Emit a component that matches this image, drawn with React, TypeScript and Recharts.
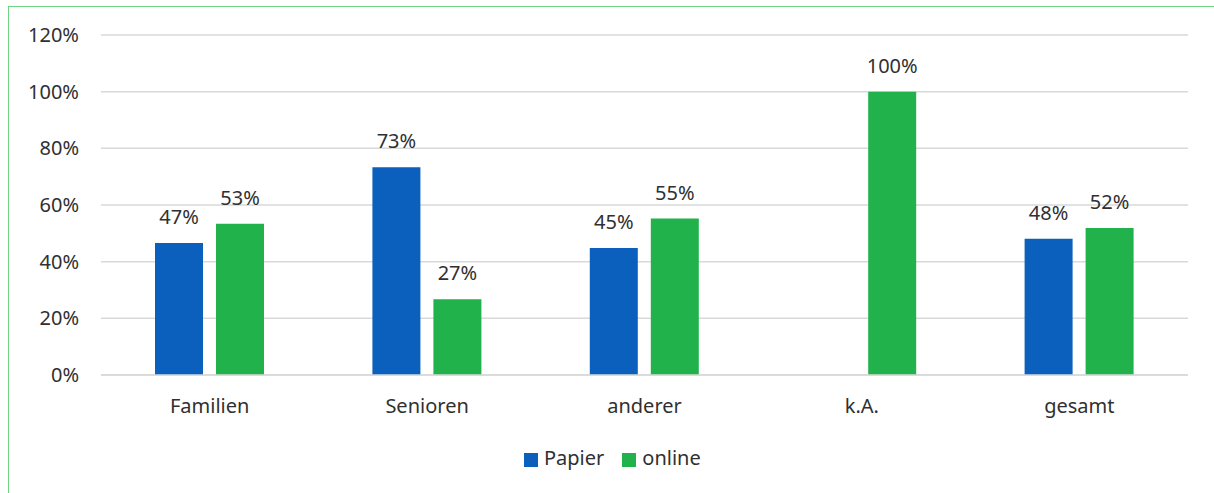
import { BarChart, Bar, XAxis, YAxis, CartesianGrid, Legend, LabelList } from 'recharts';

const categories = ['Familien', 'Senioren', 'anderer', 'k.A.', 'gesamt'];
const papier = [46.6, 73.3, 44.8, null, 48.1];
const online = [53.4, 26.7, 55.2, 100, 51.9];
const yTicks = [0, 20, 40, 60, 80, 100, 120];

const data = categories.map((name, i) => ({ name, papier: papier[i], online: online[i] }));

const font = '"Noto Sans", sans-serif';
const textColor = '#303030';

const pct = (v: any) => (v == null ? '' : `${Math.round(v)}%`);

export default function App() {
  return (
    <div style={{ position: 'absolute', left: 0, top: 0, width: 1214, height: 493, background: '#fff', fontFamily: font }}>
      <div
        style={{
          position: 'absolute',
          left: 8,
          top: 6,
          right: 0,
          bottom: 0,
          borderLeft: '1.5px solid #6fd47f',
          borderTop: '1.5px solid #6fd47f',
        }}
      />
      <BarChart
        width={1214}
        height={493}
        data={data}
        margin={{ top: 35, right: 26, left: 0, bottom: 0 }}
        barGap={13}
        barSize={48}
        style={{ position: 'absolute', left: 0, top: 0 }}
      >
        <CartesianGrid vertical={false} stroke="#d9d9d9" strokeWidth={1.5} />
        <XAxis
          dataKey="name"
          height={50}
          tickLine={false}
          axisLine={{ stroke: '#d9d9d9', strokeWidth: 1.5 }}
          tickMargin={18}
          tick={{ fill: textColor, fontSize: 20, fontFamily: font }}
        />
        <YAxis
          width={101}
          domain={[0, 120]}
          ticks={yTicks}
          tickFormatter={(v) => `${v}%`}
          tickLine={false}
          axisLine={false}
          tickMargin={16}
          tick={{ fill: textColor, fontSize: 20, fontFamily: font }}
        />
        <Legend
          verticalAlign="bottom"
          height={68}
          iconType="square"
          iconSize={14}
          wrapperStyle={{ top: 444, left: 524, width: 'auto', fontFamily: font, fontSize: 20, color: textColor }}
          formatter={(value) => <span style={{ color: textColor, marginLeft: 2, marginRight: 8 }}>{value}</span>}
        />
        <Bar dataKey="papier" name="Papier" fill="#0a60bc" isAnimationActive={false}>
          <LabelList dataKey="papier" position="top" offset={19} formatter={pct} style={{ fill: textColor, fontSize: 20, fontFamily: font }} />
        </Bar>
        <Bar dataKey="online" name="online" fill="#22b24c" isAnimationActive={false}>
          <LabelList dataKey="online" position="top" offset={19} formatter={pct} style={{ fill: textColor, fontSize: 20, fontFamily: font }} />
        </Bar>
      </BarChart>
    </div>
  );
}
